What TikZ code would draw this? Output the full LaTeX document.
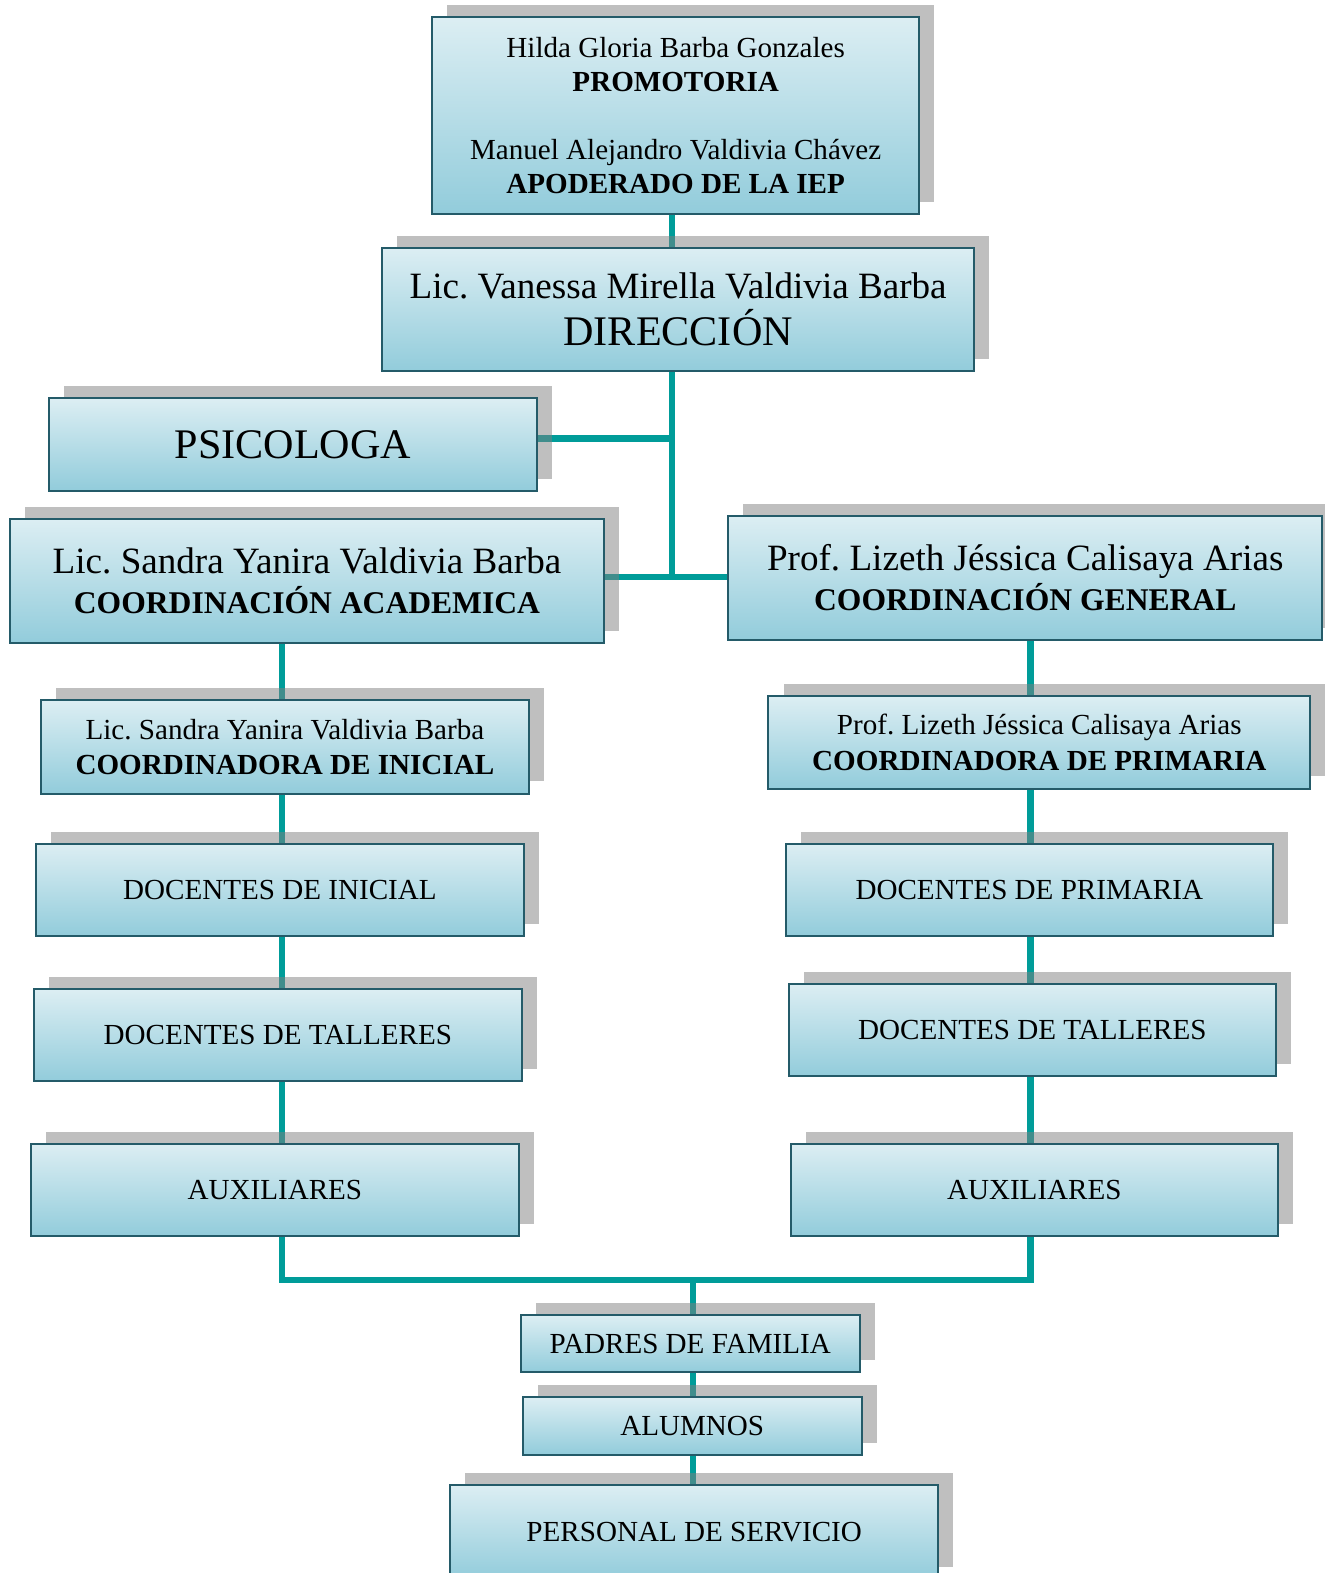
\documentclass[tikz,border=0pt]{standalone}
\usepackage{fontspec}
\setmainfont{Liberation Serif}
\usetikzlibrary{shadows,backgrounds}

\definecolor{boxtop}{HTML}{DCEEF3}
\definecolor{boxbot}{HTML}{92CCDB}
\definecolor{boxline}{HTML}{245B69}
\definecolor{linkcol}{HTML}{009C99}

\newcommand{\fsmall}{\fontsize{29}{34}\selectfont}
\newcommand{\fmid}{\fontsize{37}{40}\selectfont}
\newcommand{\fbig}{\fontsize{42}{47}\selectfont}
\frenchspacing

\begin{document}
\begin{tikzpicture}[x=1pt, y=-1pt,
	orgbox/.style={draw=boxline, line width=2pt, top color=boxtop, bottom color=boxbot, inner sep=0pt, align=center,
		drop shadow={shadow xshift=15pt, shadow yshift=12pt, fill=black!50, opacity=0.5}},
	link/.style={draw=linkcol, line width=6.5pt}]
	\useasboundingbox (0,0) rectangle (1320,1568);

	\node[orgbox, minimum width=485pt, minimum height=196pt, font=\fsmall] (top) at (673.5,115) {Hilda Gloria Barba Gonzales \\ \textbf{PROMOTORIA} \\[34pt] Manuel Alejandro Valdivia Chávez \\ \textbf{APODERADO DE LA IEP}};
	\node[orgbox, minimum width=590pt, minimum height=123pt, font=\fontsize{37}{47}\selectfont] (dir) at (676,308.5) {Lic. Vanessa Mirella Valdivia Barba \\ {\fbig DIRECCIÓN}};
	\node[orgbox, minimum width=486pt, minimum height=92pt, font=\fbig] (psico) at (292,443) {PSICOLOGA};
	\node[orgbox, minimum width=592pt, minimum height=124pt, font=\fmid] (acad) at (306,579) {Lic. Sandra Yanira Valdivia Barba \\ {\fontsize{31.5}{40}\selectfont\bfseries COORDINACIÓN ACADEMICA}};
	\node[orgbox, minimum width=592pt, minimum height=124pt, font=\fmid] (gen) at (1022,576) {Prof. Lizeth Jéssica Calisaya Arias \\ {\fontsize{31.5}{40}\selectfont\bfseries COORDINACIÓN GENERAL}};
	\node[orgbox, minimum width=486pt, minimum height=93pt, font=\fontsize{29}{35}\selectfont] (inicial) at (284,744.5) {Lic. Sandra Yanira Valdivia Barba \\ \textbf{COORDINADORA DE INICIAL}};
	\node[orgbox, minimum width=540pt, minimum height=92pt, font=\fontsize{29}{35}\selectfont] (primaria) at (1036,740) {Prof. Lizeth Jéssica Calisaya Arias \\ \textbf{COORDINADORA DE PRIMARIA}};
	\node[orgbox, minimum width=486pt, minimum height=92pt, font=\fsmall] (docini) at (279,887) {DOCENTES DE INICIAL};
	\node[orgbox, minimum width=486pt, minimum height=92pt, font=\fsmall] (docprim) at (1026,887) {DOCENTES DE PRIMARIA};
	\node[orgbox, minimum width=486pt, minimum height=92pt, font=\fsmall] (tallerl) at (277,1032) {DOCENTES DE TALLERES};
	\node[orgbox, minimum width=486pt, minimum height=92pt, font=\fsmall] (tallerr) at (1029,1027) {DOCENTES DE TALLERES};
	\node[orgbox, minimum width=486pt, minimum height=92pt, font=\fsmall] (auxl) at (274,1186) {AUXILIARES};
	\node[orgbox, minimum width=486pt, minimum height=92pt, font=\fsmall] (auxr) at (1031,1186) {AUXILIARES};
	\node[orgbox, minimum width=338pt, minimum height=57pt, font=\fsmall] (padres) at (688,1339.5) {PADRES DE FAMILIA};
	\node[orgbox, minimum width=338pt, minimum height=57pt, font=\fsmall] (alumnos) at (690,1421.5) {ALUMNOS};
	\node[orgbox, minimum width=486pt, minimum height=94pt, font=\fsmall] (personal) at (692,1527) {PERSONAL DE SERVICIO};

	\coordinate (hub) at (670,575);
	\coordinate (lcol) at (281,0);
	\coordinate (rcol) at (1027,0);
	\coordinate (bus) at (691,1276);

	\begin{scope}[on background layer]
		\fill[white] (0,0) rectangle (1320,1568);
		\draw[link] (top -| hub) -- (hub);
		\draw[link] (psico.east |- 0,437) -- (hub |- 0,437);
		\draw[link] (acad.east |- hub) -- (gen.west |- hub);
		\draw[link] (acad -| lcol) |- (bus) -| (gen -| rcol);
		\draw[link] (bus) -- (personal -| bus);
	\end{scope}
\end{tikzpicture}
\end{document}
